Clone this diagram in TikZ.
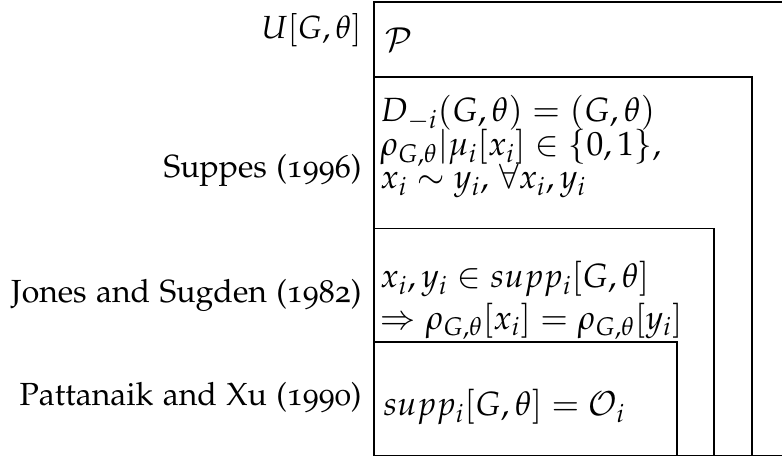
\documentclass[tikz,border=0pt]{standalone}
\usepackage[T1]{fontenc}
\usepackage{amsmath}
\usepackage{amssymb}
\usepackage[osf]{mathpazo}
\DeclareMathAlphabet{\mathcal}{OMS}{cmsy}{m}{n}
\usetikzlibrary{positioning}

\begin{document}
\begin{tikzpicture}[x=0.5pt, y=-0.5pt,
  lbl/.style={anchor=base east, inner sep=0pt, font=\fontsize{16}{19}\selectfont},
  cnt/.style={anchor=north west, inner sep=0pt, align=left, font=\fontsize{16.8}{10.4}\selectfont},
  setbox/.style={draw, line width=0.65pt}]
\useasboundingbox (0,0) rectangle (782,457);
% nested sets
\draw[setbox] (800,2) -- (374,2) -- (374,455.5) -- (800,455.5);
\draw[setbox] (374,77) rectangle (752,455.5);
\draw[setbox] (374,228.5) rectangle (714,455.5);
\draw[setbox] (374,342) rectangle (677,455.5);
% names on the left
\node[lbl] (uni) at (362,38) {$U[G,\theta]$};
\node[lbl] (sup) at (362,177) {Suppes (1996)};
\node[lbl] (js) at (362,302) {Jones and Sugden (1982)};
\node[lbl] (px) at (362,405) {Pattanaik and Xu (1990)};
% conditions inside
\node[cnt] (cP) at (385,27) {$\mathcal{P}$};
\node[cnt] (cS) at (380,95) {
  $D_{-i}(G,\theta) = (G,\theta)$\\[-1.5pt]
  $\rho_{G,\theta}|\mu_i[x_i] \in \{0,1\}$,\\[-2pt]
  $x_i \sim y_i$, $\forall x_i, y_i$
};
\node[cnt] (cJ) at (380,261) {
  $x_i, y_i \in supp_i[G,\theta]$\\[2pt]
  $\Rightarrow \rho_{G,\theta}[x_i] = \rho_{G,\theta}[y_i]$
};
\node[cnt] (cX) at (383,389) {$supp_i[G,\theta] = \mathcal{O}_i$};
\end{tikzpicture}
\end{document}
